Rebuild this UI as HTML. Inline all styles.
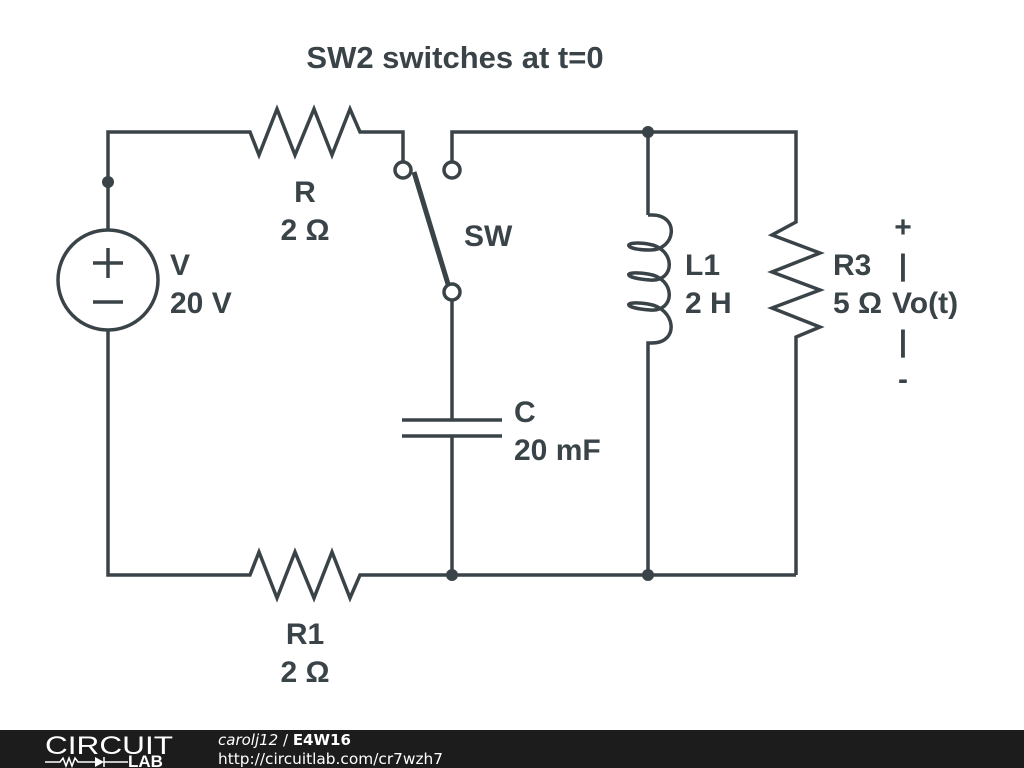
<!DOCTYPE html>
<html><head><meta charset="utf-8"><style>
html,body{margin:0;padding:0;background:#fff;}
svg{display:block;}
</style></head><body>
<svg width="1024" height="768" viewBox="0 0 1024 768" xmlns="http://www.w3.org/2000/svg">
<g fill="none" stroke="#3a4448" stroke-width="3.5" stroke-linejoin="miter">
<polyline points="108,230 108,132 250,132 259,155 277,109 295,155 314,109 332,155 350,109 360,132 403,132 403,162"/>
<polyline points="452,162 452,132 796,132 796,222 772,235 820,253 772,272 820,290 772,308 820,327 796,337 796,575"/>
<line x1="648" y1="132" x2="648" y2="215"/>
<path d="M648,215 L652,215 C680,215 676,250 650,250 C622,250 622,240 648,244 C676,248 676,282 650,280 C622,278 622,270 648,274 C676,278 676,312 650,310 C622,308 622,300 648,304 C676,308 680,343 652,343 L648,343 L648,575"/>
<circle cx="108" cy="280" r="50"/>
<line x1="93" y1="263" x2="123" y2="263"/><line x1="108" y1="248" x2="108" y2="278"/>
<line x1="93" y1="302" x2="123" y2="302"/>
<polyline points="108,330 108,575 250,575 259,552 277,598 295,552 314,598 332,552 350,598 360,575 796,575"/>
<circle cx="403" cy="170" r="8" fill="#fff"/>
<circle cx="452" cy="170" r="8" fill="#fff"/>
<circle cx="452" cy="292" r="8" fill="#fff"/>
<line x1="414" y1="172" x2="448" y2="284" stroke-width="5"/>
<line x1="452" y1="300" x2="452" y2="420"/>
<line x1="402" y1="420" x2="502" y2="420"/>
<line x1="402" y1="436" x2="502" y2="436"/>
<line x1="452" y1="436" x2="452" y2="575"/>
</g>
<g fill="#3a4448">
<circle cx="108" cy="182" r="6"/>
<circle cx="648" cy="132" r="6"/>
<circle cx="452" cy="575" r="6"/>
<circle cx="648" cy="575" r="6"/>
</g>
<g font-family="Liberation Sans, sans-serif" font-weight="bold" font-size="30" fill="#3a4448">
<text x="455" y="68" text-anchor="middle" font-size="31">SW2 switches at t=0</text>
<text x="305" y="202" text-anchor="middle">R</text>
<text x="305" y="240" text-anchor="middle">2 Ω</text>
<text x="464" y="246">SW</text>
<text x="170" y="275">V</text>
<text x="170" y="313">20 V</text>
<text x="685" y="275">L1</text>
<text x="685" y="313">2 H</text>
<text x="833" y="275">R3</text>
<text x="833" y="313">5 Ω</text>
<text x="903" y="237" text-anchor="middle">+</text>
<text x="903" y="275" text-anchor="middle">|</text>
<text x="892" y="313">Vo(t)</text>
<text x="903" y="351" text-anchor="middle">|</text>
<text x="903" y="389" text-anchor="middle">-</text>
<text x="514" y="422">C</text>
<text x="514" y="460">20 mF</text>
<text x="305" y="644" text-anchor="middle">R1</text>
<text x="305" y="682" text-anchor="middle">2 Ω</text>
</g>
<rect x="0" y="730" width="1024" height="38" fill="#1c1c1c"/>
<text x="45" y="754" font-family="Liberation Sans, sans-serif" font-size="25" fill="#fff" textLength="128" lengthAdjust="spacingAndGlyphs">CIRCUIT</text>
<g stroke="#fff" stroke-width="1.5" fill="none">
<polyline points="45,762 60,762 63,758 66,766 69,758 72,766 75,758 78,762 95,762"/>
<line x1="104" y1="757" x2="104" y2="767"/>
<line x1="104" y1="762" x2="128" y2="762"/>
</g>
<polygon points="95,757 95,767 104,762" fill="#fff"/>
<text x="128" y="767" font-family="Liberation Sans, sans-serif" font-weight="bold" font-size="17" fill="#fff">LAB</text>
<text x="218" y="745" font-family="DejaVu Sans, sans-serif" font-size="15" fill="#fff"><tspan font-style="italic">carolj12</tspan> / <tspan font-weight="bold">E4W16</tspan></text>
<text x="218" y="764" font-family="DejaVu Sans, sans-serif" font-size="15" fill="#fff" textLength="225" lengthAdjust="spacingAndGlyphs">http://circuitlab.com/cr7wzh7</text>
</svg>
</body></html>
